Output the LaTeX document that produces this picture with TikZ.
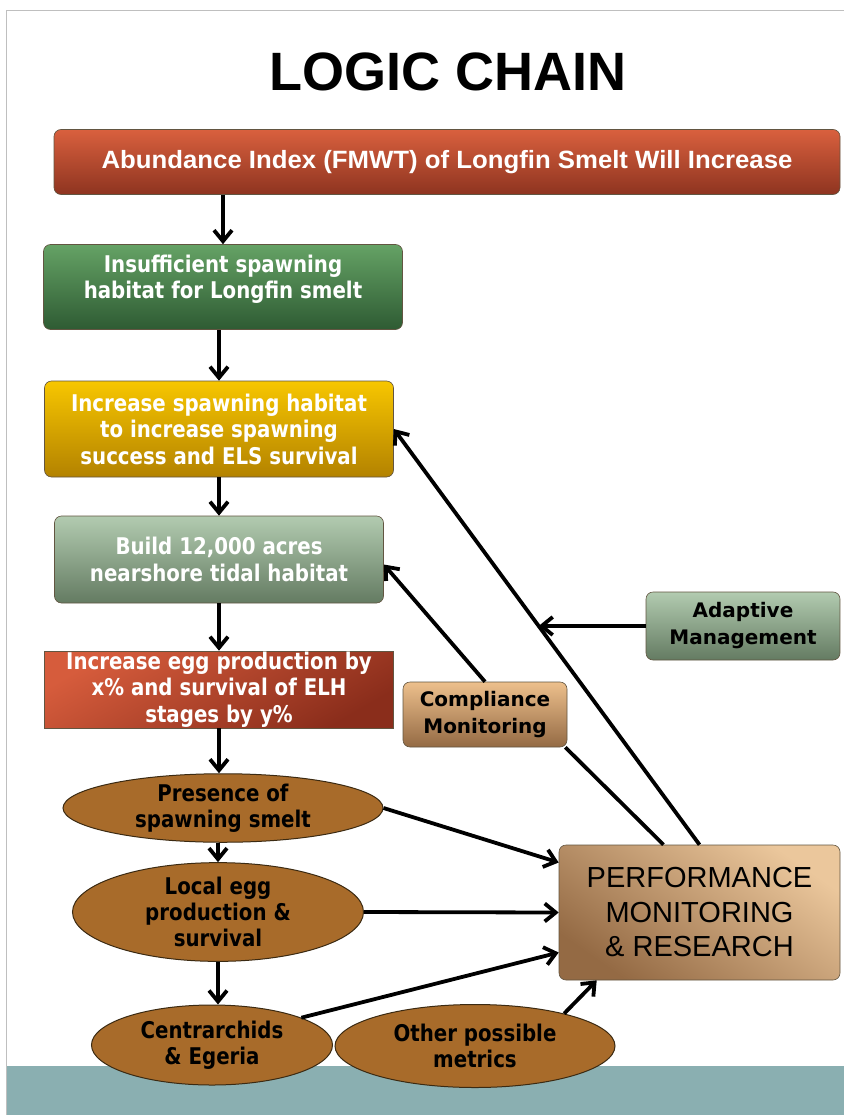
\documentclass[tikz,border=0pt]{standalone}
\usepackage{fontspec}
\usepackage{tikz}
\usetikzlibrary{arrows.meta,positioning,shapes.geometric,calc}

\newfontfamily\headfont{Liberation Sans}
\newfontfamily\widefont[FakeStretch=1.03]{Liberation Sans}
\newfontfamily\stepfont[FakeStretch=0.86]{DejaVu Sans}
\newfontfamily\sidefont{DejaVu Sans}

\definecolor{goaltop}{HTML}{D9603E}
\definecolor{goalbot}{HTML}{8E3420}
\definecolor{causetop}{HTML}{65A265}
\definecolor{causebot}{HTML}{2E5B33}
\definecolor{habtop}{HTML}{F7C600}
\definecolor{habbot}{HTML}{B38200}
\definecolor{sagetop}{HTML}{B2CBB0}
\definecolor{sagebot}{HTML}{647B62}
\definecolor{eggtop}{HTML}{D65C3C}
\definecolor{eggbot}{HTML}{8A2D1B}
\definecolor{smelt}{HTML}{A86B2A}
\definecolor{rim}{HTML}{3B2A12}
\definecolor{tantop}{HTML}{EBC79C}
\definecolor{tanbot}{HTML}{946A44}
\definecolor{band}{HTML}{8AAFB1}

\begin{document}
\begin{tikzpicture}[
  x=1pt, y=-1pt,
  on grid,
  >={Straight Barb[length=11pt,width=18pt]},
  flow/.style={->,line width=3.8pt},
  link/.style={line width=3.8pt},
  stepbox/.style={rectangle,rounded corners=7pt,draw=rim!80,line width=0.6pt,
    align=center,inner sep=0pt,text=white,
    font=\stepfont\bfseries\fontsize{23}{26.5}\selectfont},
  blob/.style={ellipse,draw=rim,line width=1pt,fill=smelt,inner sep=0pt,
    align=center,text=black,
    font=\stepfont\bfseries\fontsize{23}{26}\selectfont},
  sidebox/.style={rectangle,rounded corners=7pt,draw=rim!80,line width=0.6pt,
    align=center,inner sep=0pt,text=black,
    font=\sidefont\bfseries\fontsize{20}{27}\selectfont}
  ]

  % slide frame
  \useasboundingbox (0,0) rectangle (844,1115);
  \fill[white] (0,0) rectangle (844,1115);
  \fill[band] (6,1066) rectangle (844,1115);
  \draw[gray!50,line width=0.8pt] (6,1115) -- (6,10) -- (844,10);

  \node[font=\headfont\bfseries\fontsize{54}{60}\selectfont] (title) at (448,72) {LOGIC CHAIN};

  % main chain
  \node[stepbox,top color=goaltop,bottom color=goalbot,minimum width=786pt,minimum height=65pt,
    font=\widefont\bfseries\fontsize{25}{28}\selectfont]
    (goal) at (447,162) {Abundance Index (FMWT) of Longfin Smelt Will Increase};
  \node[stepbox,top color=causetop,bottom color=causebot,minimum width=359pt,minimum height=85pt]
    (cause) at (223,287) {Insufficient spawning\\habitat for Longfin smelt\\[-6pt]\mbox{}};
  \node[stepbox,top color=habtop,bottom color=habbot,minimum width=349pt,minimum height=96pt]
    (hab) [below=142pt of cause,xshift=-4pt] {Increase spawning habitat\\to increase spawning\\success and ELS survival};
  \node[stepbox,top color=sagetop,bottom color=sagebot,minimum width=329pt,minimum height=87pt]
    (build) [below=130.5pt of hab] {Build 12,000 acres\\nearshore tidal habitat};
  \node[stepbox,rounded corners=0pt,top color=eggtop,bottom color=eggbot,shading angle=30,
    minimum width=349pt,minimum height=77pt]
    (egg) [below=130pt of build] {Increase egg production by\\x\% and survival of ELH\\stages by y\%};

  % metrics
  \node[blob,minimum width=320pt,minimum height=63pt] (spawners) [below=118.5pt of egg,xshift=4pt]
    {Presence of\\spawning smelt};
  \node[blob,minimum width=291pt,minimum height=79pt] (eggsurv) [below=104pt of spawners,xshift=-5pt]
    {Local egg\\production \&\\survival};
  \node[blob,minimum width=241pt,minimum height=80pt] (predators) [below=133pt of eggsurv,xshift=-6pt]
    {Centrarchids\\\& Egeria};
  \node[blob,minimum width=280pt,minimum height=83pt] (others) [right=263pt of predators,yshift=-1pt]
    {Other possible\\metrics};

  % monitoring side
  \node[stepbox,top color=tantop,bottom color=tanbot,shading angle=-35,minimum width=281pt,minimum height=135pt,
    text=black,font=\headfont\fontsize{29}{34.5}\selectfont]
    (perf) at (699.5,912.5) {PERFORMANCE\\MONITORING\\\& RESEARCH};
  \node[sidebox,top color=sagetop,bottom color=sagebot,minimum width=194pt,minimum height=68pt]
    (adapt) at (743,626) {Adaptive\\Management};
  \node[sidebox,top color=tantop!90!orange,bottom color=tanbot,minimum width=164pt,minimum height=65pt]
    (comply) at (485,714.5) {Compliance\\Monitoring};

  \coordinate (loop) at ($(perf.north)!0.526!(hab.east)$);

  \draw[flow] (goal.south -| cause.north) -- (cause.north);
  \draw[flow] (cause.south -| hab.north) -- (hab.north);
  \draw[flow] (hab) -- (build);
  \draw[flow] (build) -- (egg);
  \draw[flow] (egg.south) -- (egg.south |- spawners.north);
  \draw[flow] (spawners.south -| eggsurv.north) -- (eggsurv.north);
  \draw[flow] (eggsurv.south) -- (eggsurv.south |- predators.north);

  \draw[flow] (spawners.east) -- ([yshift=50pt]perf.west);
  \draw[flow] (eggsurv.east) -- (perf.west);
  \draw[flow] (predators.17) -- ([yshift=-40pt]perf.west);
  \draw[flow] (others.20) -- ([xshift=38pt]perf.south west);

  \draw[flow] (perf.north) -- (hab.east);
  \draw[flow] (adapt.west) -- (adapt.west -| loop);
  \draw[link] ([xshift=-36pt]perf.north) -- ([xshift=-2pt]comply.south east);
  \draw[flow] (comply.north) -- ([yshift=-5pt]build.east);
\end{tikzpicture}
\end{document}
